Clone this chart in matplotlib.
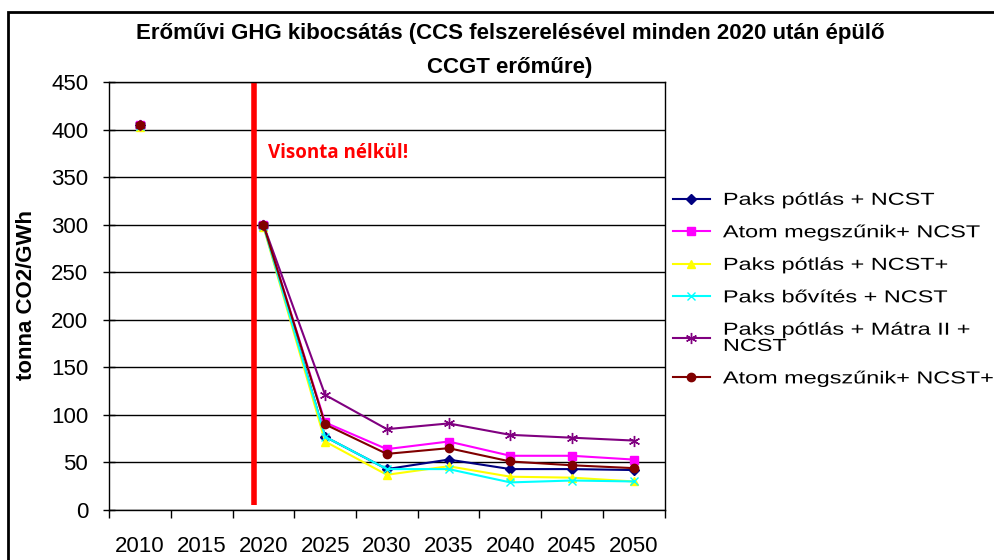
import matplotlib
matplotlib.use('Agg')
import matplotlib.pyplot as plt
import matplotlib.patches as patches
from matplotlib.patheffects import AbstractPathEffect
from matplotlib.transforms import Affine2D
import numpy as np

plt.rcParams['font.family'] = ['Liberation Sans', 'DejaVu Sans']

years = ['2010', '2015', '2020', '2025', '2030', '2035', '2040', '2045', '2050']
nan = np.nan

paks_potlas = [405, nan, 300, 77, 43, 53, 43, 43, 42]
atom_megszunik = [405, nan, 300, 92, 64, 72, 57, 57, 53]
paks_potlas_plus = [403, nan, 298, 72, 37, 46, 35, 34, 30]
paks_bovites = [404, nan, 299, 77, 43, 43, 29, 31, 30]
paks_matra = [405, nan, 300, 121, 85, 91, 79, 76, 73]
atom_megszunik_plus = [405, nan, 300, 90, 59, 65, 51, 47, 44]

series = [
    ('Paks pótlás + NCST', paks_potlas, '#000080', 'D', 5),
    ('Atom megszűnik+ NCST', atom_megszunik, '#FF00FF', 's', 6),
    ('Paks pótlás + NCST+', paks_potlas_plus, '#FFFF00', '^', 6),
    ('Paks bővítés + NCST', paks_bovites, '#00FFFF', 'x', 6),
    ('Paks pótlás + Mátra II +\nNCST', paks_matra, '#800080', (6, 2, 0), 8),
    ('Atom megszűnik+ NCST+', atom_megszunik_plus, '#800000', 'o', 6),
]


class WideText(AbstractPathEffect):
    """Stretch text horizontally about its line start."""

    def __init__(self, sx):
        super().__init__()
        self.sx = sx

    def draw_path(self, renderer, gc, tpath, affine, rgbFace=None):
        x0, y0 = affine.transform((0, 0))
        stretch = Affine2D().translate(-x0, -y0).scale(self.sx, 1).translate(x0, y0)
        renderer.draw_path(gc, tpath, affine + stretch, rgbFace)


fig = plt.figure(figsize=(9.94, 5.6), dpi=100)
ax = fig.add_axes([0.1097, 0.0893, 0.559, 0.7643])

x = np.arange(len(years))
for label, vals, color, marker, ms in series:
    ax.plot(x, vals, color=color, marker=marker, markersize=ms,
            markeredgecolor=color, markerfacecolor=color,
            linewidth=1.5, label=label)

# 2020 cut-off line
ax.plot([1.85, 1.85], [5, 450], color='#FF0000', linewidth=4, solid_capstyle='butt')
ax.text(2.07, 370, 'Visonta nélkül!', color='#FF0000', fontsize=13.5,
        fontweight='bold', family=['Open Sans', 'DejaVu Sans'])

ax.set_xlim(-0.5, len(years) - 0.5)
ax.set_ylim(0, 450)
ax.set_yticks(np.arange(0, 451, 50))
ax.set_xticks(x)
ax.set_xticklabels(years)
ax.set_xticks(np.arange(-0.5, len(years)), minor=True)
ax.tick_params(axis='x', which='major', length=0, pad=19, labelsize=16)
ax.tick_params(axis='x', which='minor', length=6, width=1, direction='out')
ax.tick_params(axis='y', length=8, width=1, direction='inout', labelsize=16, pad=11)
ax.yaxis.grid(True, color='black', linewidth=1)
ax.set_axisbelow(True)
for s in ax.spines.values():
    s.set_linewidth(1)
    s.set_color('black')

fig.text(27 / 994, 0.473, 'tonna CO2/GWh', rotation=90, ha='center', va='center',
         fontsize=16, fontweight='bold')

fig.text(0.513, 0.941, 'Erőművi GHG kibocsátás (CCS felszerelésével minden 2020 után épülő',
         ha='center', va='center', fontsize=16, fontweight='bold')
fig.text(0.513, 0.880, 'CCGT erőműre)', ha='center', va='center',
         fontsize=16, fontweight='bold')

leg = fig.legend(loc='upper left', bbox_to_anchor=(0.677, 0.656), frameon=False,
                 fontsize=12.5, handlelength=2.13, labelspacing=1.0,
                 handletextpad=0.75, borderaxespad=0, borderpad=0)
for t in leg.get_texts():
    t.set_path_effects([WideText(1.35)])
    t.set_linespacing(1.1)

# outer chart frame
fig.add_artist(patches.Rectangle((8 / 994, -0.1), 1.2, 1 - 12 / 560 + 0.1,
                                 transform=fig.transFigure, fill=False,
                                 edgecolor='black', linewidth=2))

fig.savefig('out.png', dpi=100)
